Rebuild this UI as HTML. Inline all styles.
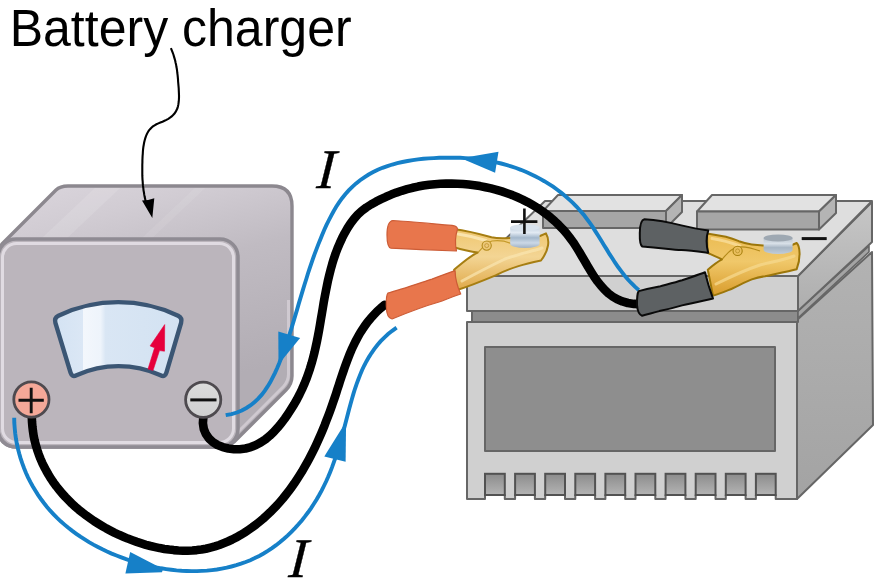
<!DOCTYPE html>
<html><head><meta charset="utf-8"><style>
html,body{margin:0;padding:0;background:#fff;width:875px;height:579px;overflow:hidden}
svg{display:block}
</style></head><body>
<svg width="875" height="579" viewBox="0 0 875 579">
<defs>
<linearGradient id="gold" x1="0" y1="0" x2="0" y2="1">
<stop offset="0" stop-color="#efc66e"/><stop offset="0.45" stop-color="#f3d594"/><stop offset="1" stop-color="#dfa848"/>
</linearGradient>
<linearGradient id="gold2" x1="0" y1="0" x2="0" y2="1">
<stop offset="0" stop-color="#ebbb52"/><stop offset="0.45" stop-color="#f0c86a"/><stop offset="1" stop-color="#d99c2c"/>
</linearGradient>
<linearGradient id="bright" gradientUnits="userSpaceOnUse" x1="0" y1="260" x2="0" y2="500">
<stop offset="0" stop-color="#b2b2b2"/><stop offset="1" stop-color="#a3a3a3"/>
</linearGradient>
<linearGradient id="bslab" gradientUnits="userSpaceOnUse" x1="0" y1="205" x2="0" y2="310">
<stop offset="0" stop-color="#c6c6c6"/><stop offset="1" stop-color="#aeaeae"/>
</linearGradient>
<linearGradient id="mterm" x1="0" y1="0" x2="0" y2="1">
<stop offset="0" stop-color="#dcdcdc"/><stop offset="1" stop-color="#cfcfd0"/>
</linearGradient>
<linearGradient id="post" x1="0" y1="0" x2="0" y2="1">
<stop offset="0" stop-color="#c4d2e0"/><stop offset="0.25" stop-color="#e2eaf3"/><stop offset="0.5" stop-color="#a4b8cc"/><stop offset="0.75" stop-color="#cbd8e6"/><stop offset="1" stop-color="#9eb0c4"/>
</linearGradient>
<linearGradient id="post2" x1="0" y1="0" x2="0" y2="1">
<stop offset="0" stop-color="#b8c2cc"/><stop offset="0.35" stop-color="#d8e0e8"/><stop offset="0.6" stop-color="#a8b6c4"/><stop offset="1" stop-color="#c0ccd8"/>
</linearGradient>
<linearGradient id="notch" x1="0" y1="0" x2="0" y2="1">
<stop offset="0" stop-color="#8c8c8c"/><stop offset="1" stop-color="#b4b4b4"/>
</linearGradient>
<linearGradient id="ctop" x1="0" y1="0" x2="1" y2="0">
<stop offset="0" stop-color="#d0cbd2"/><stop offset="0.3" stop-color="#dad5dc"/><stop offset="1" stop-color="#c8c3ca"/>
</linearGradient>
<linearGradient id="chull" gradientUnits="userSpaceOnUse" x1="0" y1="186" x2="60" y2="420">
<stop offset="0" stop-color="#dbd6dd"/><stop offset="0.22" stop-color="#d1ccd3"/><stop offset="0.5" stop-color="#c0bbc2"/><stop offset="1" stop-color="#b2adb4"/>
</linearGradient>
<linearGradient id="cright" x1="0" y1="0" x2="0" y2="1">
<stop offset="0" stop-color="#c0bbc2"/><stop offset="1" stop-color="#aea9b0"/>
</linearGradient>
<linearGradient id="meter" x1="0" y1="0" x2="1" y2="0">
<stop offset="0" stop-color="#d4e3f3"/><stop offset="0.22" stop-color="#dbe7f5"/><stop offset="0.225" stop-color="#f3f7fc"/><stop offset="0.36" stop-color="#eef4fb"/><stop offset="0.4" stop-color="#d9e6f4"/><stop offset="1" stop-color="#d3e2f2"/>
</linearGradient>
</defs>

<!-- ===== Title ===== -->
<text transform="translate(9.7,45.6) scale(0.981,1)" font-family="Liberation Sans, sans-serif" font-size="51" fill="#000">Battery charger</text>

<!-- ===== Charger ===== -->
<!-- hull (right face colour) -->
<path d="M2,244 L56,190 Q60,186 68,186 L272,186 Q292,186 292,206 L292,376 Q292,384 286,390 L234,442 Q228,447 220,447 L18,447 Q-2,447 -2,427 L-2,257 Q-2,249 2,244 Z" fill="url(#chull)" stroke="#8c888f" stroke-width="3.4"/>
<path d="M40,240 L95,188 L120,188 L65,240 Z" fill="#fff" opacity="0.12"/>
<path d="M140,240 L195,188 L205,188 L150,240 Z" fill="#fff" opacity="0.08"/>
<path d="M288.5,300 V374 Q288.5,381 283.5,386.5 L233,437" fill="none" stroke="#d3ced5" stroke-width="3" opacity="0.85"/>
<!-- front face -->
<rect x="-2" y="239" width="240" height="208" rx="18" fill="#bbb5bc" stroke="#8f8b93" stroke-width="3.5"/>
<rect x="2.5" y="243.5" width="231" height="199" rx="14" fill="none" stroke="#e0dbe2" stroke-width="3"/>

<!-- meter -->
<path d="M58.4,315.7 A139,139 0 0 1 178.1,315.7 Q182.5,318 181.1,322.8 L166.4,372.7 Q165,377.5 160.55,375.2 A102,102 0 0 0 76.45,375.2 Q72,377.5 70.55,372.7 L55.4,322.8 Q54,318 58.4,315.7 Z" fill="url(#meter)" stroke="#3b5674" stroke-width="4.4" stroke-linejoin="round"/>
<path d="M164.7,324.6 L150.1,345.9 L154.6,347.8 L148,369 L153,370.5 L159.5,350.6 L164.5,351.2 Z" fill="#e6003c" stroke="#e6003c" stroke-width="0.6" stroke-linejoin="round"/>
<!-- annotation arrow -->
<path d="M170.9,48.2 L171.8,50.3 L172.6,52.4 L173.4,54.5 L174.0,56.6 L174.6,58.6 L175.2,60.7 L175.6,62.7 L176.1,64.7 L176.4,66.8 L176.8,68.8 L177.1,70.9 L177.3,73.0 L177.6,75.1 L177.8,77.2 L178.0,79.3 L178.1,81.5 L178.3,83.7 L178.5,85.9 L178.7,88.2 L178.8,90.6 L178.9,92.9 L179.0,95.2 L179.0,97.5 L178.9,99.8 L178.7,102.0 L178.4,104.2 L178.0,106.3 L177.4,108.3 L176.6,110.1 L175.6,111.9 L174.5,113.5 L173.1,115.0 L171.7,116.4 L170.0,117.7 L168.3,118.8 L166.4,119.9 L164.5,120.8 L162.5,121.7 L160.4,122.5 L158.4,123.4 L156.4,124.3 L154.6,125.3 L152.9,126.4 L151.4,127.7 L150.0,129.2 L148.8,130.7 L147.7,132.4 L146.8,134.2 L146.0,136.1 L145.3,138.1 L144.7,140.2 L144.2,142.3 L143.8,144.5 L143.4,146.7 L143.1,149.0 L142.9,151.3 L142.8,153.5 L142.6,155.8 L142.5,158.1 L142.4,160.4 L142.4,162.6 L142.3,164.8 L142.3,166.9 L142.3,169.1 L142.3,171.2 L142.3,173.3 L142.3,175.4 L142.4,177.5 L142.5,179.6 L142.7,181.7 L142.8,183.8 L143.0,185.9 L143.3,188.0 L143.5,190.1 L143.9,192.2 L144.2,194.4 L144.6,196.6 L145.1,198.8 L145.6,201.1" fill="none" stroke="#000" stroke-width="2.1"/>
<path d="M142,200.5 L152.3,218 L154.3,198.2 Q148,200.5 142,200.5 Z" fill="#000"/>

<!-- ===== Battery ===== -->
<g stroke="#666" stroke-width="2" stroke-linejoin="round">
<!-- body -->
<path d="M797,320 L872,252 L873,425 L797,499 Z" fill="url(#bright)"/>
<path d="M467,322 H797 V499 H775.7 V495 H755.9 V499 H745.6 V495 H725.8 V499 H715.5 V495 H695.7 V499 H685.4 V495 H665.6 V499 H655.3 V495 H635.5 V499 H625.2 V495 H605.4 V499 H595.1 V495 H575.3 V499 H565.0 V495 H545.2 V499 H534.9 V495 H515.1 V499 H504.8 V495 H485.0 V499 H467 Z" fill="#d0d0d0"/>
<!-- recess -->
<path d="M472,311 H798 V322 H472 Z" fill="#8c8c8c"/>
<path d="M798,311 L869,246 L869,252 L798,318 Z" fill="#a4a4a4" stroke-width="1.6"/>
<!-- top slab -->
<path d="M798,276 L872,202 L872,242 L798,311 Z" fill="url(#bslab)"/>
<path d="M467,276 H798 V311 H467 Z" fill="#d0d0d0"/>
<path d="M467,276 L545,201 L872,201 L798,276 Z" fill="#dedede"/>
<!-- blocks -->
<path d="M558,195 H682 L666,211 H543 Z" fill="#e2e2e2"/>
<path d="M543,211 H666 V228 H543 Z" fill="#a6a6a6"/>
<path d="M666,211 L682,195 V212 L666,228 Z" fill="#b4b4b4"/>
<path d="M712,195 H836 L819,211.5 H697 Z" fill="#e2e2e2"/>
<path d="M697,211.5 H819 V229.5 H697 Z" fill="#a6a6a6"/>
<path d="M819,211.5 L836,195 V213 L819,229.5 Z" fill="#b4b4b4"/>
<!-- label panel -->
<path d="M485,347 H775 V451 H485 Z" fill="#8e8e8e"/>
</g>
<!-- notches -->
<g id="notches" fill="url(#notch)" stroke="#525252" stroke-width="2">
<rect x="485.0" y="473.8" width="19.8" height="21.2"/>
<rect x="515.1" y="473.8" width="19.8" height="21.2"/>
<rect x="545.2" y="473.8" width="19.8" height="21.2"/>
<rect x="575.3" y="473.8" width="19.8" height="21.2"/>
<rect x="605.4" y="473.8" width="19.8" height="21.2"/>
<rect x="635.5" y="473.8" width="19.8" height="21.2"/>
<rect x="665.6" y="473.8" width="19.8" height="21.2"/>
<rect x="695.7" y="473.8" width="19.8" height="21.2"/>
<rect x="725.8" y="473.8" width="19.8" height="21.2"/>
<rect x="755.9" y="473.8" width="19.8" height="21.2"/>
</g>

<!-- minus sign on battery -->
<path d="M801.7,238.6 H826.7" stroke="#111" stroke-width="3"/>

<!-- ===== Cables (black) ===== -->
<path d="M31.8,416.7 L32.0,421.6 L32.4,426.5 L33.0,431.4 L33.7,436.1 L34.7,440.8 L35.9,445.3 L37.2,449.8 L38.7,454.2 L40.4,458.6 L42.2,462.8 L44.2,466.9 L46.4,471.0 L48.7,475.0 L51.1,478.9 L53.7,482.7 L56.4,486.4 L59.3,490.0 L62.2,493.5 L65.4,497.0 L68.6,500.3 L71.9,503.6 L75.3,506.7 L78.9,509.8 L82.5,512.7 L86.3,515.6 L90.1,518.3 L94.0,521.0 L98.0,523.5 L102.1,526.0 L106.2,528.4 L110.4,530.6 L114.7,532.8 L119.0,534.8 L123.4,536.7 L127.8,538.6 L132.3,540.3 L136.8,541.9 L141.4,543.4 L145.9,544.8 L150.5,546.0 L155.2,547.1 L159.8,548.1 L164.4,548.9 L169.1,549.6 L173.7,550.1 L178.4,550.5 L183.0,550.7 L187.6,550.7 L192.3,550.5 L196.8,550.1 L201.4,549.5 L205.9,548.7 L210.4,547.6 L214.9,546.4 L219.3,545.0 L223.6,543.3 L227.9,541.5 L232.2,539.5 L236.3,537.4 L240.4,535.1 L244.5,532.6 L248.4,530.0 L252.3,527.3 L256.1,524.5 L259.8,521.5 L263.4,518.5 L266.8,515.4 L270.2,512.2 L273.6,508.8 L276.8,505.5 L279.9,502.0 L282.9,498.5 L285.9,494.8 L288.7,491.2 L291.5,487.4 L294.2,483.6 L296.8,479.7 L299.3,475.8 L301.8,471.8 L304.2,467.7 L306.5,463.7 L308.8,459.5 L311.0,455.3 L313.1,451.1 L315.2,446.8 L317.2,442.5 L319.1,438.2 L321.0,433.9 L322.9,429.5 L324.7,425.1 L326.4,420.6 L328.1,416.2 L329.8,411.7 L331.4,407.2 L332.9,402.8 L334.5,398.3 L336.0,393.8 L337.4,389.3 L338.9,384.8 L340.3,380.3 L341.8,375.9 L343.3,371.5 L344.8,367.1 L346.4,362.7 L348.0,358.4 L349.7,354.1 L351.5,349.8 L353.4,345.7 L355.4,341.6 L357.6,337.5 L359.8,333.5 L362.3,329.6 L364.9,325.8 L367.6,322.0 L370.6,318.4 L373.8,314.9 L377.1,311.4 L380.7,308.1 L384.6,304.9" fill="none" stroke="#000" stroke-width="8.6" stroke-linecap="round" stroke-linejoin="round"/>
<path d="M203.4,416.5 L202.9,423.1 L203.8,429.0 L205.9,434.1 L209.0,438.5 L212.9,442.1 L217.5,445.0 L222.7,447.1 L228.3,448.5 L234.0,449.2 L239.8,449.2 L245.5,448.5 L250.9,447.1 L256.0,445.0 L260.8,442.4 L265.4,439.4 L269.7,435.8 L273.8,431.9 L277.6,427.7 L281.3,423.3 L284.7,418.7 L288.0,414.0 L291.1,409.2 L294.1,404.4 L296.9,399.5 L299.5,394.5 L301.9,389.5 L304.2,384.3 L306.3,379.2 L308.2,373.9 L310.0,368.6 L311.6,363.3 L313.1,357.9 L314.5,352.4 L315.7,347.0 L316.9,341.5 L318.0,335.9 L319.0,330.4 L320.0,324.8 L320.9,319.2 L321.9,313.6 L322.8,308.1 L323.7,302.5 L324.7,296.9 L325.8,291.4 L326.9,285.9 L328.0,280.4 L329.3,274.9 L330.7,269.5 L332.2,264.1 L333.8,258.8 L335.6,253.5 L337.6,248.3 L339.8,243.1 L342.1,238.1 L344.7,233.1 L347.5,228.2 L350.6,223.4 L354.0,218.9 L357.7,214.7 L361.8,210.9 L366.3,207.5 L371.0,204.5 L376.0,201.7 L381.0,199.2 L386.1,196.8 L391.2,194.6 L396.4,192.6 L401.7,190.8 L407.1,189.2 L412.5,187.8 L418.0,186.6 L423.5,185.6 L429.1,184.8 L434.7,184.2 L440.4,183.8 L446.0,183.6 L451.7,183.5 L457.4,183.7 L463.1,184.0 L468.7,184.5 L474.4,185.2 L480.0,186.1 L485.5,187.2 L491.0,188.4 L496.5,189.8 L501.8,191.4 L507.1,193.2 L512.4,195.1 L517.5,197.3 L522.6,199.6 L527.5,202.1 L532.3,204.8 L537.1,207.6 L541.7,210.7 L546.1,213.9 L550.5,217.4 L554.6,221.0 L558.7,224.9 L562.6,228.9 L566.3,233.1 L569.8,237.6 L573.2,242.2 L576.3,247.0 L579.4,252.0 L582.3,257.0 L585.3,262.0 L588.2,267.1 L591.2,272.0 L594.2,276.8 L597.5,281.4 L600.9,285.7 L604.5,289.7 L608.4,293.4 L612.7,296.6 L617.3,299.3 L622.4,301.4 L627.9,303.0 L634.0,303.9 L640.6,304.1" fill="none" stroke="#000" stroke-width="8.6" stroke-linecap="round" stroke-linejoin="round"/>

<!-- terminals -->
<circle cx="31.4" cy="399.5" r="17.6" fill="#f4a898" stroke="#4e4a4f" stroke-width="2.8"/>
<path d="M18.5,400.2 H43.8 M31.2,387.8 V413.3" stroke="#111" stroke-width="2.9"/>
<circle cx="203.2" cy="399.7" r="17.6" fill="url(#mterm)" stroke="#4e4a4f" stroke-width="2.8"/>
<path d="M190.3,399.9 H216.5" stroke="#111" stroke-width="3"/>
<!-- ===== Blue current lines ===== -->
<g fill="none" stroke="#1680c8" stroke-width="3.9" stroke-linecap="butt">
<path d="M14.2,417.8 L14.3,423.0 L14.7,428.2 L15.2,433.3 L15.9,438.4 L16.8,443.5 L17.9,448.5 L19.2,453.5 L20.6,458.4 L22.2,463.2 L24.0,468.0 L25.9,472.7 L28.0,477.3 L30.3,481.9 L32.7,486.3 L35.3,490.6 L38.0,494.9 L40.9,499.0 L43.9,503.0 L47.0,506.9 L50.2,510.7 L53.6,514.3 L57.1,517.9 L60.7,521.3 L64.5,524.6 L68.3,527.8 L72.3,530.9 L76.3,533.8 L80.4,536.7 L84.7,539.4 L89.0,542.1 L93.4,544.6 L97.9,547.0 L102.4,549.3 L107.0,551.5 L111.7,553.6 L116.5,555.5 L121.3,557.4 L126.1,559.2 L131.0,560.8 L136.0,562.4 L140.9,563.8 L146.0,565.1 L151.0,566.3 L156.1,567.4 L161.1,568.3 L166.2,569.1 L171.3,569.8 L176.5,570.4 L181.6,570.8 L186.7,571.0 L191.8,571.1 L196.8,571.1 L201.9,570.9 L206.9,570.6 L211.9,570.1 L216.9,569.5 L221.8,568.6 L226.7,567.7 L231.5,566.5 L236.3,565.2 L241.0,563.7 L245.7,562.0 L250.3,560.2 L254.8,558.1 L259.2,555.9 L263.6,553.5 L267.8,550.9 L272.0,548.1 L276.1,545.2 L280.1,542.1 L284.0,538.8 L287.8,535.4 L291.4,531.8 L295.0,528.1 L298.5,524.3 L301.8,520.4 L305.0,516.4 L308.1,512.3 L311.1,508.1 L313.9,503.8 L316.6,499.5 L319.2,495.0 L321.6,490.6 L323.9,486.0 L326.1,481.5 L328.2,476.8 L330.1,472.2 L332.0,467.4 L333.7,462.7 L335.4,457.9 L337.0,453.1 L338.5,448.2 L340.0,443.3 L341.4,438.4 L342.8,433.5 L344.1,428.5 L345.4,423.6 L346.7,418.6 L348.0,413.6 L349.3,408.6 L350.6,403.7 L352.0,398.8 L353.4,393.9 L354.9,389.0 L356.5,384.3 L358.3,379.5 L360.1,374.9 L362.0,370.3 L364.1,365.8 L366.4,361.4 L368.9,357.1 L371.5,353.0 L374.4,348.9 L377.4,345.0 L380.7,341.2 L384.3,337.6 L388.1,334.1 L392.2,330.8 L396.6,327.7"/>
<path d="M225.7,415.2 L231.5,414.1 L236.9,412.5 L241.8,410.5 L246.4,408.0 L250.7,405.2 L254.6,402.1 L258.2,398.6 L261.6,394.9 L264.7,390.9 L267.5,386.7 L270.2,382.3 L272.6,377.7 L274.9,373.1 L277.1,368.3 L279.1,363.5 L281.0,358.6 L282.9,353.7 L284.7,348.8 L286.4,343.8 L288.1,338.9 L289.7,333.9 L291.3,328.9 L292.8,323.9 L294.3,318.9 L295.8,313.9 L297.3,308.9 L298.7,303.9 L300.2,298.9 L301.7,293.9 L303.2,288.9 L304.7,284.0 L306.3,279.0 L307.8,274.0 L309.4,269.1 L311.1,264.2 L312.8,259.2 L314.5,254.3 L316.4,249.4 L318.2,244.6 L320.2,239.7 L322.2,234.8 L324.2,230.0 L326.4,225.2 L328.7,220.5 L331.1,215.8 L333.6,211.2 L336.2,206.8 L339.1,202.4 L342.1,198.2 L345.3,194.2 L348.7,190.4 L352.3,186.8 L356.1,183.4 L360.1,180.2 L364.3,177.3 L368.7,174.5 L373.2,172.1 L377.8,169.8 L382.5,167.8 L387.4,166.1 L392.3,164.5 L397.3,163.1 L402.4,162.0 L407.6,161.0 L412.8,160.1 L418.0,159.4 L423.3,158.8 L428.6,158.4 L433.9,158.1 L439.2,157.8 L444.4,157.7 L449.7,157.6 L454.9,157.7 L460.2,157.8 L465.4,158.1 L470.6,158.5 L475.7,159.0 L480.9,159.6 L486.0,160.4 L491.1,161.3 L496.2,162.3 L501.2,163.5 L506.2,164.9 L511.1,166.4 L516.1,168.0 L520.9,169.8 L525.7,171.8 L530.5,173.9 L535.2,176.2 L539.8,178.6 L544.3,181.2 L548.7,183.9 L553.1,186.7 L557.3,189.7 L561.4,192.9 L565.5,196.2 L569.3,199.6 L573.1,203.1 L576.7,206.8 L580.2,210.7 L583.6,214.6 L586.7,218.7 L589.8,222.9 L592.8,227.2 L595.6,231.6 L598.4,236.0 L601.2,240.5 L603.9,244.9 L606.7,249.4 L609.4,253.9 L612.3,258.3 L615.1,262.7 L618.1,267.0 L621.2,271.1 L624.3,275.2 L627.7,279.2 L631.2,283.0 L634.9,286.6 L638.8,290.1"/>
</g>
<g fill="#1680c8">
<path d="M130.2,552 L163,569 L162,572.2 L125.4,573.6 Z"/>
<path d="M346.1,421.4 L345.6,461.8 L324.3,456.6 Z"/>
<path d="M278.3,331.4 L300.1,338 L278.5,364.5 Z"/>
<path d="M461,158.3 L498.5,151.7 L495.1,172.8 Z"/>
</g>

<!-- ===== Clips ===== -->
<!-- left (red) clip gold body -->
<path d="M453,229 C465,230.5 480,234 491.5,237.3 C497,238.5 503,238.5 510,238 L540,236 L546,233.4 C550,240 549,250 541,260.5 C525,264 512,267 495.6,275.3 C482,281 470,286 455.5,290.5 L454.1,269.8 C462,263 470,256 477.7,252.5 C470,251.5 460,249 453,247 Z" fill="url(#gold)" stroke="#a67e12" stroke-width="2" stroke-linejoin="round"/>
<path d="M458,234 C468,235.5 478,238 486,240.5" fill="none" stroke="#fbe9b8" stroke-width="3" stroke-linecap="round" opacity="0.85"/>
<path d="M462,281 C475,274 490,266 505,259 C518,254 530,252 542,248" fill="none" stroke="#fae6b0" stroke-width="3" stroke-linecap="round" opacity="0.7"/>
<path d="M478,252.5 C482,248 486,243 492,241 C500,240 506,241 512,244" fill="none" stroke="#c49a2a" stroke-width="1.2"/>
<circle cx="486.7" cy="245.6" r="4.6" fill="#ecc878" stroke="#b38a1c" stroke-width="1.1"/>
<circle cx="486.7" cy="245.6" r="2" fill="none" stroke="#c09030" stroke-width="0.8"/>
<!-- + post -->
<path d="M510.2,227.5 V244 A14.7,4 0 0 0 539.6,244 V227.5 Z" fill="url(#post)"/>
<ellipse cx="524.9" cy="227.5" rx="14.7" ry="3.2" fill="#d8e2ec"/>
<path d="M511,221.6 H537.4 M524.4,208.5 V234" stroke="#111" stroke-width="2.6"/>
<!-- orange sleeves -->
<path d="M393,220.5 C405,221 425,223 452,225.4 Q457,226 457.5,229 Q454,240 456.5,251 L421,249.6 L391,248.2 Q387,247.5 387,235 Q387,221 393,220.5 Z" fill="#e8764c" stroke="#cc5c36" stroke-width="1.2" stroke-linejoin="round"/>
<path d="M388,293 C400,290 420,283 432,279.1 C440,276 448,273 455,270.6 Q455.5,283 460.7,294 C450,297.5 445,300 439,302 C425,306 415,309.5 392,319 Q386.5,318 386.3,306 Q386,295 388,293 Z" fill="#e8764c" stroke="#cc5c36" stroke-width="1.2" stroke-linejoin="round"/>

<!-- right (black) clip gold body -->
<path d="M707,233.4 C715,234.5 720,235.5 725.9,236.7 C731,238 735,239.5 738.9,241.2 C744,243 748,244 751.8,244.4 L763,245.5 L792,245 L796.7,243 C800,246 801,258 796.7,269.2 C790,271 780,273 765,276.2 C760,277 756,278 751.8,279.4 C745,282 738,286 732.4,288.5 C726,291 719,294 713,295.6 L707.8,269.7 C712,266 717,262 722,259.3 C716,256.5 711,254.5 707.5,252.8 Z" fill="url(#gold2)" stroke="#9c760a" stroke-width="2" stroke-linejoin="round"/>
<path d="M712,238.5 C722,240 732,243 740,246" fill="none" stroke="#f8dc98" stroke-width="3" stroke-linecap="round" opacity="0.85"/>
<path d="M716,284 C730,277 745,270 760,265 C772,262 784,260 794,256" fill="none" stroke="#f6d88e" stroke-width="3" stroke-linecap="round" opacity="0.75"/>
<path d="M722,259.3 C727,254 731,248 738,247 C745,246 752,248 760,251" fill="none" stroke="#b48a1a" stroke-width="1.2"/>
<circle cx="737.6" cy="250.9" r="4.6" fill="#eabf5e" stroke="#a8800f" stroke-width="1.1"/>
<circle cx="737.6" cy="250.9" r="2" fill="none" stroke="#b8902a" stroke-width="0.8"/>
<!-- - post -->
<path d="M763.6,238 V250 A14.5,4 0 0 0 792.6,250 V238 Z" fill="url(#post2)"/>
<ellipse cx="778.1" cy="238" rx="14.5" ry="3.6" fill="#9ea8b2"/>
<!-- black sleeves -->
<path d="M644.4,219.3 C655,220 670,222.5 681.4,225.4 C692,228 700,229.5 708.2,230.6 Q705,241 708.2,252.7 C698,251.5 690,250.5 681.4,250.1 C672,249.5 665,248.5 642.3,246.5 Q639.5,245 639.8,233 Q640,220 644.4,219.3 Z" fill="#5d6163" stroke="#0a0a0a" stroke-width="2" stroke-linejoin="round"/>
<path d="M638.7,291.1 C645,289.5 652,288 659.3,286.6 C667,284.5 675,282.5 682.1,280.3 C690,277.5 698,275 705,272.3 Q708,285 713,298.6 C702,301 692,303 682.1,305.4 C675,307.5 667,309.5 659.3,311.1 C652,313 647,314.5 642.1,315.7 Q637.6,314 637,305 Q636.8,294 638.7,291.1 Z" fill="#5d6163" stroke="#0a0a0a" stroke-width="2" stroke-linejoin="round"/>

<!-- I labels -->
<text transform="translate(316,187.8) skewX(-4)" font-family="Liberation Serif, serif" font-style="italic" font-size="56" fill="#000" stroke="#000" stroke-width="0.35">I</text>
<text transform="translate(288,577) skewX(-4)" font-family="Liberation Serif, serif" font-style="italic" font-size="56" fill="#000" stroke="#000" stroke-width="0.35">I</text>
</svg>
</body></html>
